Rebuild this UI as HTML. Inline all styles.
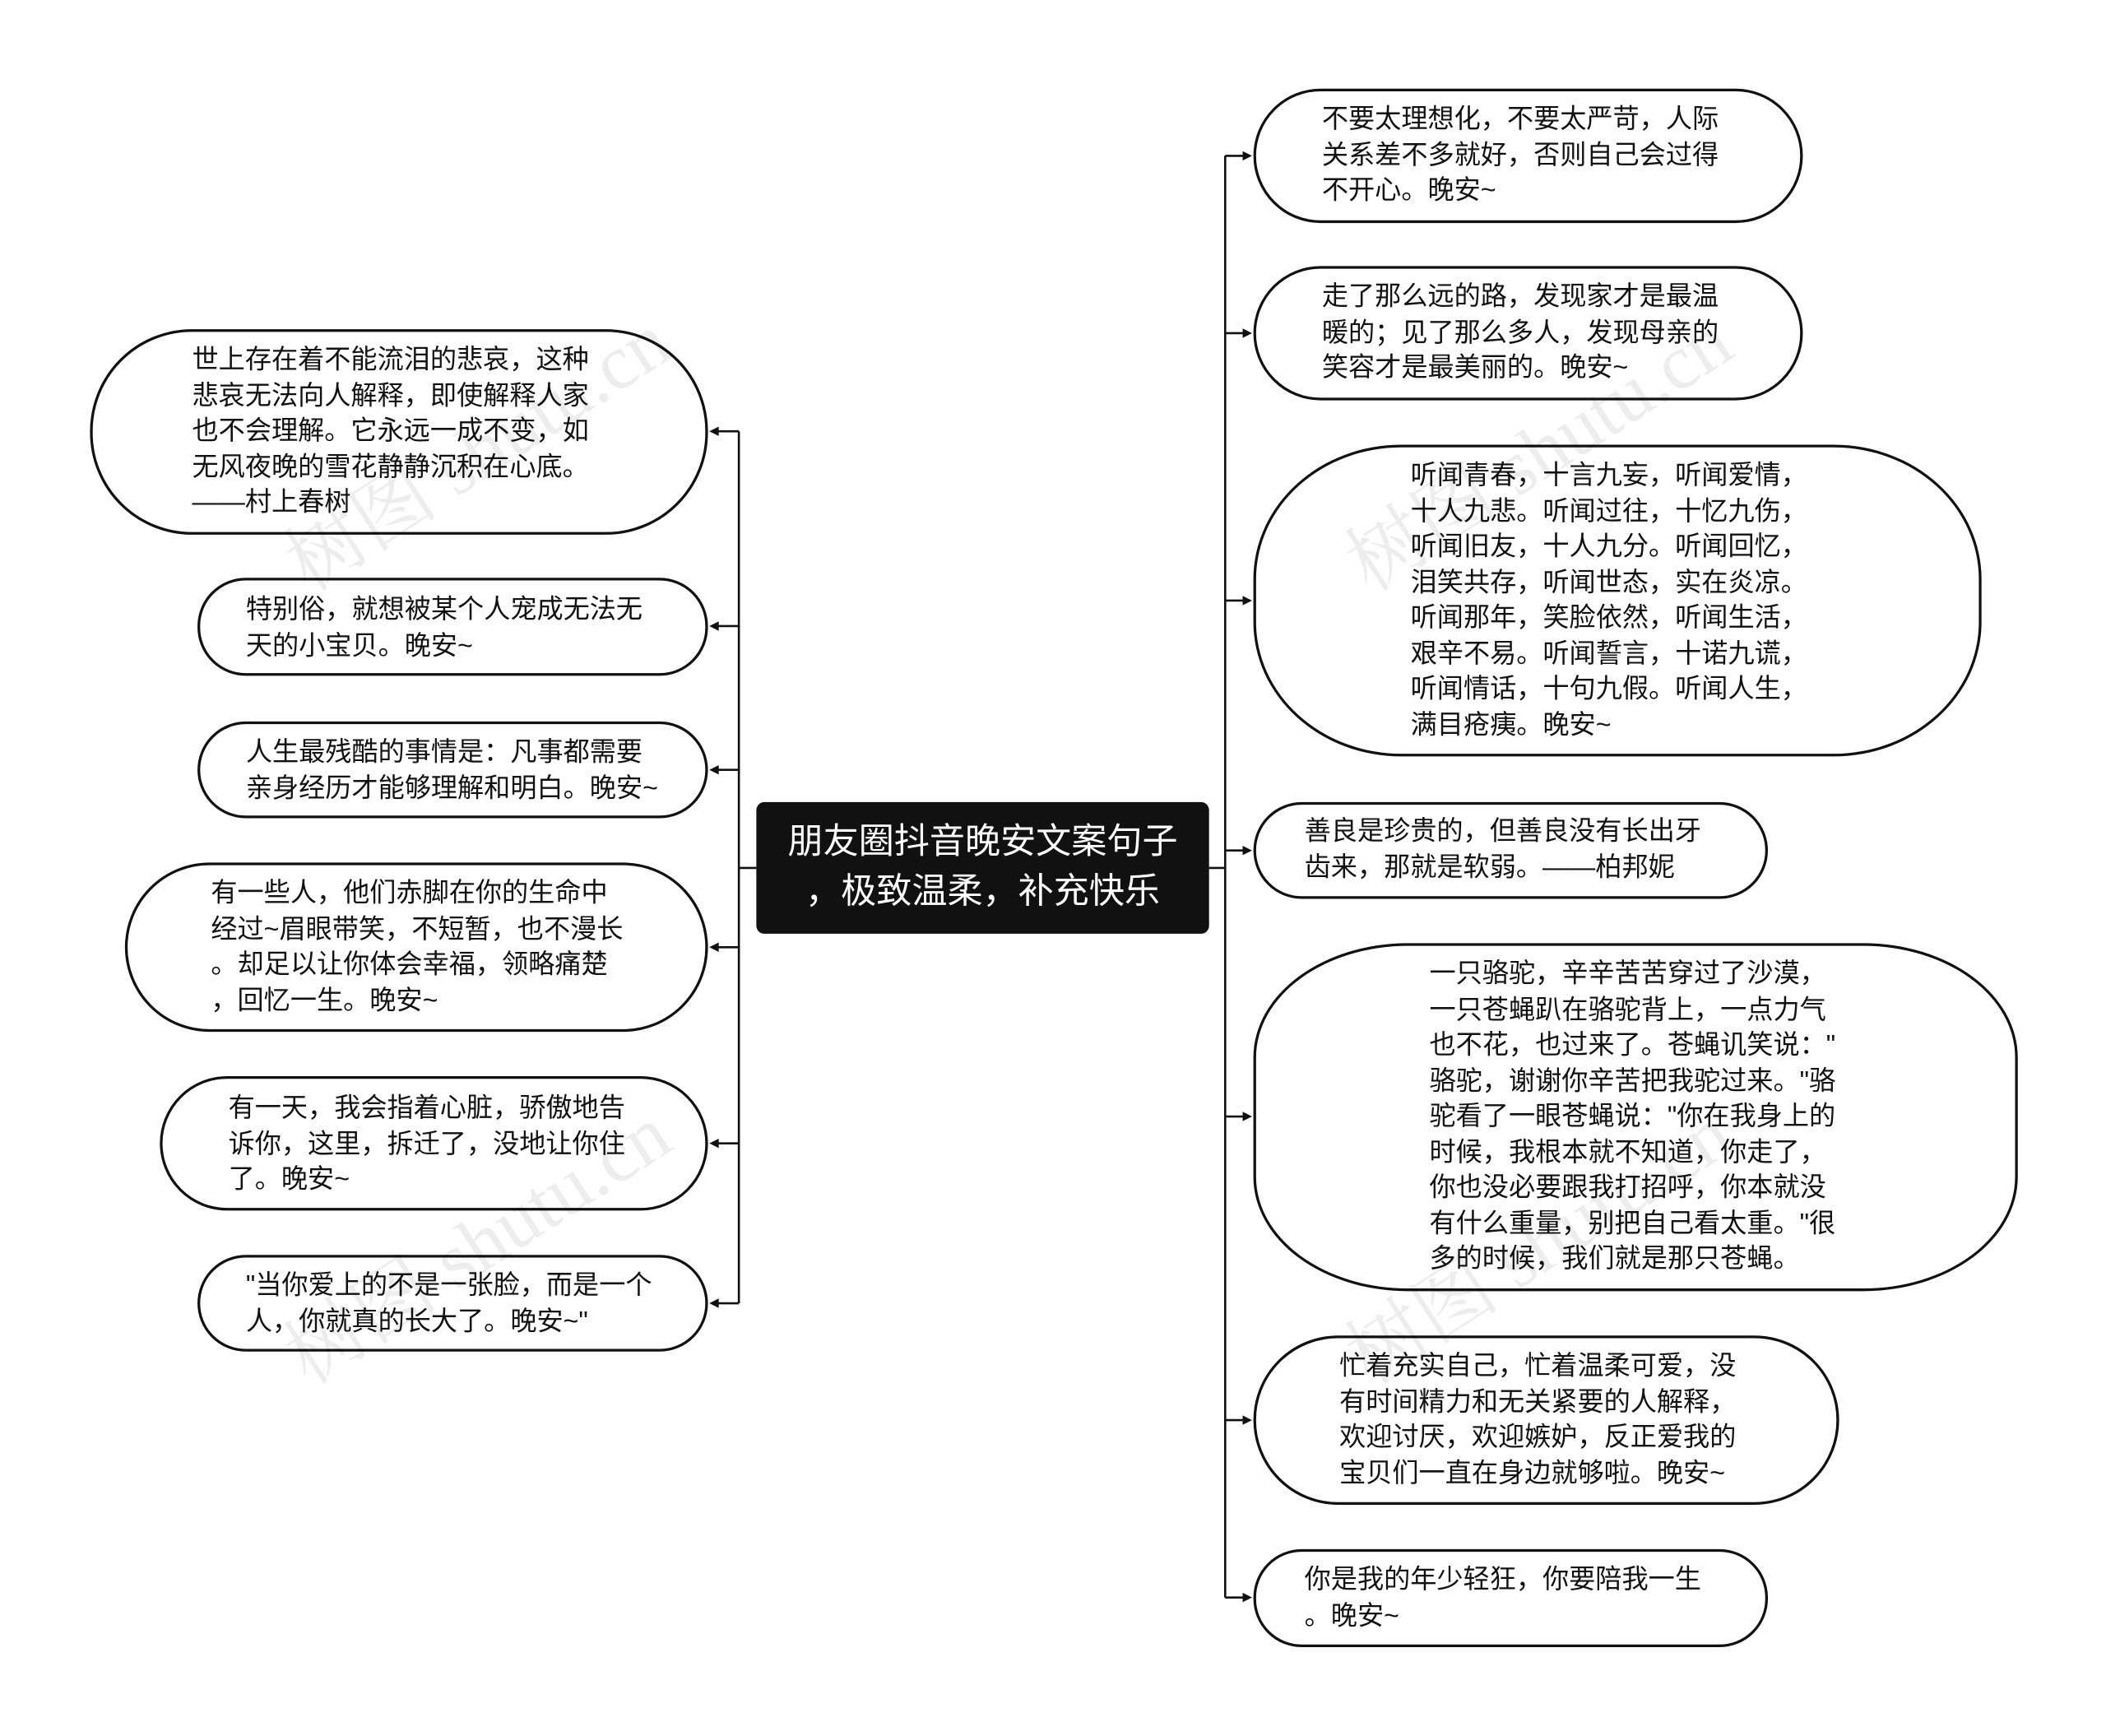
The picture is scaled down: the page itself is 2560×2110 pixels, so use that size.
<!DOCTYPE html>
<html><head><meta charset="utf-8"><style>
html,body{margin:0;padding:0;background:#fff;}
body{width:2560px;height:2109px;overflow:hidden;position:relative;}
#w{position:absolute;left:0;top:0;width:1568px;height:1292px;transform:scale(1.633);transform-origin:0 0;}
.n{position:absolute;box-sizing:border-box;border:2.2px solid #111;background:#fff;}
.t{position:absolute;font-family:"Liberation Sans","Noto Sans CJK SC",sans-serif;font-size:19.7px;line-height:26.5px;color:#111;white-space:nowrap;}
.c{position:absolute;left:563px;top:597px;width:337px;height:98px;background:#111;border-radius:6px;color:#fff;font-family:"Liberation Sans","Noto Sans CJK SC",sans-serif;font-size:26.4px;line-height:37px;text-align:center;padding-top:11px;box-sizing:border-box;}
.wm{position:absolute;font-family:"Liberation Serif","Noto Serif CJK SC",serif;font-size:58px;color:rgba(0,0,0,0.07);transform:rotate(-33deg);white-space:nowrap;}
</style></head><body><div id="w">
<svg width="1568" height="1292" style="position:absolute;left:0;top:0">
<g stroke="#111" stroke-width="1.6" fill="none">
<line x1="550" y1="321" x2="550" y2="970"/>
<line x1="550" y1="646" x2="563" y2="646"/>
<line x1="550" y1="321" x2="533" y2="321"/>
<line x1="550" y1="466" x2="533" y2="466"/>
<line x1="550" y1="573" x2="533" y2="573"/>
<line x1="550" y1="705" x2="533" y2="705"/>
<line x1="550" y1="851" x2="533" y2="851"/>
<line x1="550" y1="970" x2="533" y2="970"/>
<line x1="912" y1="116" x2="912" y2="1189"/>
<line x1="900" y1="646" x2="912" y2="646"/>
<line x1="912" y1="116" x2="927" y2="116"/>
<line x1="912" y1="248" x2="927" y2="248"/>
<line x1="912" y1="447" x2="927" y2="447"/>
<line x1="912" y1="633" x2="927" y2="633"/>
<line x1="912" y1="831" x2="927" y2="831"/>
<line x1="912" y1="1057" x2="927" y2="1057"/>
<line x1="912" y1="1189" x2="927" y2="1189"/>
</g>
<g fill="#111">
<path d="M528 321 l7 -3.5 v7z"/><path d="M528 466 l7 -3.5 v7z"/><path d="M528 573 l7 -3.5 v7z"/>
<path d="M528 705 l7 -3.5 v7z"/><path d="M528 851 l7 -3.5 v7z"/><path d="M528 970 l7 -3.5 v7z"/>
<path d="M932 116 l-7 -3.5 v7z"/><path d="M932 248 l-7 -3.5 v7z"/><path d="M932 447 l-7 -3.5 v7z"/>
<path d="M932 633 l-7 -3.5 v7z"/><path d="M932 831 l-7 -3.5 v7z"/><path d="M932 1057 l-7 -3.5 v7z"/>
<path d="M932 1189 l-7 -3.5 v7z"/>
</g>
</svg>

<div class="n" style="left:67px;top:245px;width:460px;height:153px;border-radius:76px"></div>
<div class="t" style="left:143px;top:255px">世上存在着不能流泪的悲哀，这种<br>悲哀无法向人解释，即使解释人家<br>也不会理解。它永远一成不变，如<br>无风夜晚的雪花静静沉积在心底。<br>——村上春树</div>

<div class="n" style="left:147px;top:430px;width:380px;height:73px;border-radius:36px"></div>
<div class="t" style="left:183px;top:441px">特别俗，就想被某个人宠成无法无<br>天的小宝贝。晚安~</div>

<div class="n" style="left:147px;top:537px;width:380px;height:72px;border-radius:36px"></div>
<div class="t" style="left:183px;top:547px">人生最残酷的事情是：凡事都需要<br>亲身经历才能够理解和明白。晚安~</div>

<div class="n" style="left:93px;top:642px;width:434px;height:126px;border-radius:63px"></div>
<div class="t" style="left:157px;top:652px">有一些人，他们赤脚在你的生命中<br>经过~眉眼带笑，不短暂，也不漫长<br>。却足以让你体会幸福，领略痛楚<br>，回忆一生。晚安~</div>

<div class="n" style="left:119px;top:801px;width:408px;height:100px;border-radius:50px"></div>
<div class="t" style="left:170px;top:812px">有一天，我会指着心脏，骄傲地告<br>诉你，这里，拆迁了，没地让你住<br>了。晚安~</div>

<div class="n" style="left:147px;top:934px;width:380px;height:72px;border-radius:36px"></div>
<div class="t" style="left:183px;top:944px">"当你爱上的不是一张脸，而是一个<br>人，你就真的长大了。晚安~"</div>

<div class="c">朋友圈抖音晚安文案句子<br>，极致温柔，补充快乐</div>

<div class="n" style="left:933px;top:66px;width:409px;height:100px;border-radius:50px"></div>
<div class="t" style="left:984px;top:76px">不要太理想化，不要太严苛，人际<br>关系差不多就好，否则自己会过得<br>不开心。晚安~</div>

<div class="n" style="left:933px;top:198px;width:409px;height:100px;border-radius:50px"></div>
<div class="t" style="left:984px;top:208px">走了那么远的路，发现家才是最温<br>暖的；见了那么多人，发现母亲的<br>笑容才是最美丽的。晚安~</div>

<div class="n" style="left:933px;top:331px;width:542px;height:232px;border-radius:110px / 100px"></div>
<div class="t" style="left:1050px;top:341px">听闻青春，十言九妄，听闻爱情，<br>十人九悲。听闻过往，十忆九伤，<br>听闻旧友，十人九分。听闻回忆，<br>泪笑共存，听闻世态，实在炎凉。<br>听闻那年，笑脸依然，听闻生活，<br>艰辛不易。听闻誓言，十诺九谎，<br>听闻情话，十句九假。听闻人生，<br>满目疮痍。晚安~</div>

<div class="n" style="left:933px;top:597px;width:383px;height:72px;border-radius:36px"></div>
<div class="t" style="left:971px;top:606px">善良是珍贵的，但善良没有长出牙<br>齿来，那就是软弱。——柏邦妮</div>

<div class="n" style="left:933px;top:702px;width:569px;height:259px;border-radius:115px / 85px"></div>
<div class="t" style="left:1064px;top:712px">一只骆驼，辛辛苦苦穿过了沙漠，<br>一只苍蝇趴在骆驼背上，一点力气<br>也不花，也过来了。苍蝇讥笑说："<br>骆驼，谢谢你辛苦把我驼过来。"骆<br>驼看了一眼苍蝇说："你在我身上的<br>时候，我根本就不知道，你走了，<br>你也没必要跟我打招呼，你本就没<br>有什么重量，别把自己看太重。"很<br>多的时候，我们就是那只苍蝇。</div>

<div class="n" style="left:933px;top:994px;width:436px;height:126px;border-radius:63px"></div>
<div class="t" style="left:997px;top:1004px">忙着充实自己，忙着温柔可爱，没<br>有时间精力和无关紧要的人解释，<br>欢迎讨厌，欢迎嫉妒，反正爱我的<br>宝贝们一直在身边就够啦。晚安~</div>

<div class="n" style="left:933px;top:1153px;width:383px;height:73px;border-radius:36px"></div>
<div class="t" style="left:971px;top:1163px">你是我的年少轻狂，你要陪我一生<br>。晚安~</div>

<div class="wm" style="left:190px;top:290px">树图 shutu.cn</div>
<div class="wm" style="left:190px;top:880px">树图 shutu.cn</div>
<div class="wm" style="left:980px;top:290px">树图 shutu.cn</div>
<div class="wm" style="left:980px;top:880px">树图 shutu.cn</div>
</div></body></html>
